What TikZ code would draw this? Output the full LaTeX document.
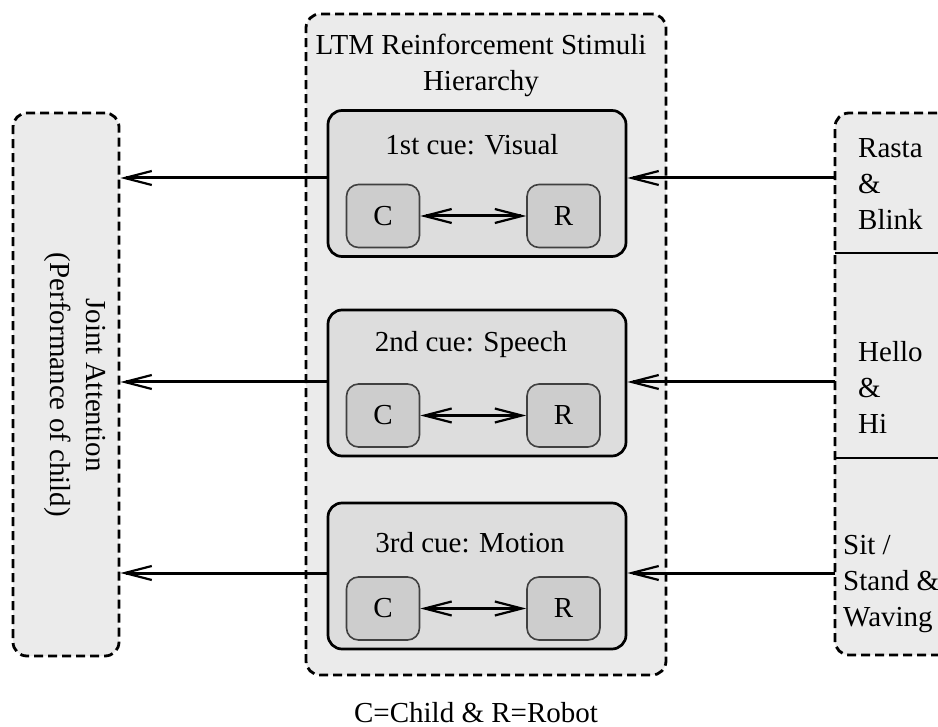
\documentclass[tikz,border=0pt]{standalone}
\usepackage{fontspec}
\setmainfont{Liberation Serif}
\usetikzlibrary{arrows.meta}
\definecolor{outerfill}{RGB}{235,235,235}
\definecolor{innerfill}{RGB}{221,221,221}
\definecolor{crfill}{RGB}{205,205,205}
\begin{document}
\begin{tikzpicture}[x=1pt,y=-1pt,
  dbox/.style={draw, dash pattern=on 9pt off 5pt, line width=2.8pt, rounded corners=14pt, fill=outerfill, inner sep=0pt},
  cuebox/.style={draw, line width=2.7pt, rounded corners=14pt, fill=innerfill, minimum width=298pt, minimum height=146pt, inner sep=0pt},
  crbox/.style={draw=black!75, line width=1.6pt, rounded corners=12pt, fill=crfill, minimum width=73pt, minimum height=63pt, inner sep=0pt, font=\fontsize{29}{35}\selectfont},
  lbl/.style={font=\fontsize{29}{36}\selectfont, inner sep=0pt},
  sepline/.style={line width=2.8pt},
  mytip/.tip={Straight Barb[length=27pt,width=14pt,line width=2.2pt]},
  arr/.style={line width=3pt, -mytip},
  darr/.style={line width=3pt, mytip-mytip}
]
\clip (0,0) rectangle (938,727);
\fill[white] (0,0) rectangle (938,727);

% outer dashed boxes
\node[dbox, minimum width=106pt, minimum height=543pt] (joint) at (66,384.5) {};
\node[dbox, minimum width=360pt, minimum height=661pt] (ltm) at (486,344.5) {};
\node[dbox, minimum width=130pt, minimum height=542pt] (stim) at (900,384) {};

% separators in stimulus box
\coordinate (s1) at (835,253);
\coordinate (s2) at (835,458);
\draw[sepline] (s1) -- (s1 -| stim.east);
\draw[sepline] (s2) -- (s2 -| stim.east);

% titles
\node[lbl, align=center] (ltmtitle) at (481,65) {LTM Reinforcement Stimuli\\Hierarchy};
\node[lbl, align=center, rotate=-90] (jtext) at (75,385) {Joint Attention\\(Performance of child)};

% cue boxes
\node[cuebox] (cue1) at (477,183.5) {};
\node[cuebox] (cue2) at (477,383) {};
\node[cuebox] (cue3) at (477,576) {};

\node[lbl, anchor=base] (t1) at (472,155) {1st cue: Visual};
\node[lbl, anchor=base] (t2) at (471,352) {2nd cue: Speech};
\node[lbl, anchor=base] (t3) at (470,552) {3rd cue: Motion};

\node[crbox] (c1) at (383,216) {C};
\node[crbox] (r1) at (563.5,216) {R};
\node[crbox] (c2) at (383,415.5) {C};
\node[crbox] (r2) at (563.5,415.5) {R};
\node[crbox] (c3) at (383,608.5) {C};
\node[crbox] (r3) at (563.5,608.5) {R};

\draw[darr] (c1) -- (r1);
\draw[darr] (c2) -- (r2);
\draw[darr] (c3) -- (r3);

% stimulus texts
\node[lbl, anchor=west, align=left] (rasta) at (858,184) {Rasta\\\&\\Blink};
\node[lbl, anchor=west, align=left] (hello) at (858,387) {Hello\\\&\\Hi};
\node[lbl, anchor=west, align=left] (sit) at (843,584) {Sit /\\Stand \&\\Waving};

% row arrows
\coordinate (a1) at (835,178);
\coordinate (a2) at (835,382);
\coordinate (a3) at (835,573);
\draw[arr] (a1) -- (a1 -| cue1.east);
\draw[arr] (a2) -- (a2 -| cue2.east);
\draw[arr] (a3) -- (a3 -| cue3.east);
\draw[arr] (cue1.west |- a1) -- (joint.east |- a1);
\draw[arr] (cue2.west |- a2) -- (joint.east |- a2);
\draw[arr] (cue3.west |- a3) -- (joint.east |- a3);

% legend
\node[lbl, anchor=base] (legend) at (476,722) {C=Child \& R=Robot};
\end{tikzpicture}
\end{document}
